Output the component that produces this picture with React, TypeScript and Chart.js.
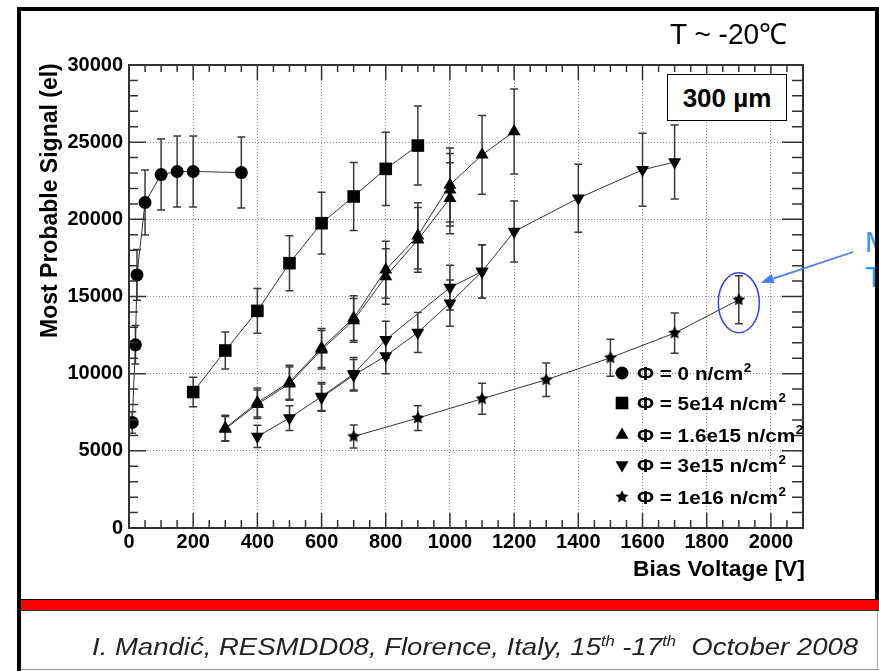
import React, { useEffect, useLayoutEffect, useRef } from "react";
import { Chart, registerables } from "chart.js";

Chart.register(...registerables);

// ---------------- data ----------------
// Phi = 0 (circles)
const v0 = [10, 20, 25, 50, 100, 150, 200, 350];
const s0 = [6840, 11870, 16400, 21090, 22900, 23100, 23100, 23030];
const e0 = [700, 1250, 1650, 2100, 2300, 2300, 2300, 2300];

// Phi = 5e14 (squares)
const v1 = [200, 300, 400, 500, 600, 700, 800, 900];
const s1 = [8810, 11500, 14070, 17160, 19750, 21480, 23270, 24780];
const e1 = [950, 1200, 1450, 1780, 2000, 2200, 2380, 2560];

// Phi = 1.6e15 (up triangles, several samples)
const v2a = [300, 400, 500, 600, 700, 800, 900, 1000, 1100, 1200];
const s2a = [6480, 8130, 9450, 11660, 13600, 16730, 18930, 22230, 24180, 25690];
const e2a = [830, 940, 1100, 1260, 1450, 1850, 2150, 2400, 2550, 2750];

const v2b = [300, 400, 500, 600, 700, 800, 900, 1000];
const s2b = [6420, 8020, 9350, 11550, 13450, 16300, 18670, 21370];
const e2b = [800, 920, 1080, 1240, 1420, 1800, 2100, 2300];

const v2c = [1000];
const s2c = [21910];
const e2c = [2350];

// Phi = 3e15 (down triangles, two samples)
const v3a = [400, 500, 600, 700, 800, 1000, 1100, 1200, 1400, 1600, 1700];
const s3a = [5930, 7125, 8520, 9990, 12200, 15580, 16620, 19210, 21370, 23210, 23710];
const e3a = [720, 800, 900, 1050, 1200, 1450, 1730, 1980, 2200, 2370, 2400];

const v3b = [600, 700, 800, 900, 1000, 1100];
const s3b = [8450, 9900, 11150, 12670, 14570, 16620];
const e3b = [880, 1020, 1150, 1300, 1500, 1730];

// Phi = 1e16 (stars)
const v4 = [700, 900, 1100, 1300, 1500, 1700, 1900];
const s4 = [5930, 7125, 8375, 9605, 11030, 12630, 14790];
const e4 = [750, 800, 1000, 1080, 1200, 1300, 1560];

const legendLabels = [
  "Φ = 0 n/cm",
  "Φ = 5e14 n/cm",
  "Φ = 1.6e15 n/cm",
  "Φ = 3e15 n/cm",
  "Φ = 1e16 n/cm",
];
const legendMarkers = ["circle", "rect", "up", "down", "star"];

const xMin = 0;
const xMax = 2100;
const xMajor = 200;
const xMinor = 50;
const yMin = 0;
const yMax = 30000;
const yMajor = 5000;
const yMinor = 1000;

const notePoint = [1900, 14600];

const FONT = '"Liberation Sans", Arial, Helvetica, sans-serif';

function makeStar(size: number) {
  const c = document.createElement("canvas");
  c.width = size;
  c.height = size;
  const g = c.getContext("2d")!;
  const cx = size / 2;
  const cy = size / 2;
  const R = size / 2 - 0.3;
  const r = R * 0.5;
  g.beginPath();
  for (let i = 0; i < 10; i++) {
    const a = -Math.PI / 2 + (i * Math.PI) / 5;
    const rad = i % 2 === 0 ? R : r;
    g.lineTo(cx + rad * Math.cos(a), cy + rad * Math.sin(a));
  }
  g.closePath();
  g.fillStyle = "#000";
  g.fill();
  return c;
}

function drawMarker(ctx: CanvasRenderingContext2D, kind: string, x: number, y: number, star: HTMLCanvasElement) {
  ctx.beginPath();
  if (kind === "circle") {
    ctx.arc(x, y, 6.5, 0, Math.PI * 2);
    ctx.fill();
  } else if (kind === "rect") {
    ctx.fillRect(x - 6.3, y - 6.3, 12.6, 12.6);
  } else if (kind === "up") {
    ctx.moveTo(x, y - 7.5);
    ctx.lineTo(x + 6.5, y + 3.75);
    ctx.lineTo(x - 6.5, y + 3.75);
    ctx.closePath();
    ctx.fill();
  } else if (kind === "down") {
    ctx.moveTo(x, y + 7.5);
    ctx.lineTo(x + 6.5, y - 3.75);
    ctx.lineTo(x - 6.5, y - 3.75);
    ctx.closePath();
    ctx.fill();
  } else {
    ctx.drawImage(star, x - star.width / 2, y - star.height / 2);
  }
}

function FitText(props: any) {
  const { x, baseline, size, weight = "normal", italic = false, color = "#000", align = "left", target, children } = props;
  const ref = useRef<HTMLSpanElement>(null);
  useLayoutEffect(() => {
    const el = ref.current;
    if (!el || !target) return;
    el.style.transform = "none";
    const w = el.offsetWidth;
    if (w > 0) el.style.transform = `scaleX(${target / w})`;
  }, [target]);
  const style: any = {
    position: "absolute",
    top: baseline - 0.8465 * size,
    whiteSpace: "nowrap",
    fontFamily: FONT,
    fontSize: size,
    lineHeight: 1,
    fontWeight: weight,
    fontStyle: italic ? "italic" : "normal",
    color,
    display: "inline-block",
    transformOrigin: align === "right" ? "right center" : "left center",
  };
  if (align === "right") style.right = 879 - x;
  else style.left = x;
  return (
    <span ref={ref} style={style}>
      {children}
    </span>
  );
}

const sup = (t: string) => (
  <span style={{ fontSize: "0.6em", position: "relative", top: "-0.6em" }}>{t}</span>
);

export default function App() {
  const ref = useRef<HTMLCanvasElement>(null);

  useEffect(() => {
    const canvas = ref.current!;
    const star = makeStar(14);
    const mk = (v: number[], s: number[]) => v.map((x, i) => ({ x, y: s[i] }));
    const base = {
      showLine: true,
      borderColor: "#333",
      borderWidth: 1,
      pointBackgroundColor: "#000",
      pointBorderColor: "#000",
      pointBorderWidth: 0,
      tension: 0,
      fill: false,
    };

    const errorBarPlugin = {
      id: "errbars",
      beforeDatasetsDraw(chart: any) {
        const { ctx, chartArea, scales } = chart;
        const xs = scales.x;
        const ys = scales.y;
        ctx.save();
        ctx.beginPath();
        ctx.rect(chartArea.left, chartArea.top, chartArea.right - chartArea.left, chartArea.bottom - chartArea.top);
        ctx.clip();
        ctx.strokeStyle = "#3a3a3a";
        ctx.lineWidth = 1.5;
        chart.data.datasets.forEach((ds: any) => {
          const errs = ds.errors;
          if (!errs) return;
          ds.data.forEach((p: any, i: number) => {
            const px = xs.getPixelForValue(p.x);
            const y1 = ys.getPixelForValue(p.y + errs[i]);
            const y2 = ys.getPixelForValue(p.y - errs[i]);
            ctx.beginPath();
            ctx.moveTo(px, y1);
            ctx.lineTo(px, y2);
            ctx.moveTo(px - 4, y1);
            ctx.lineTo(px + 4, y1);
            ctx.moveTo(px - 4, y2);
            ctx.lineTo(px + 4, y2);
            ctx.stroke();
          });
        });
        ctx.restore();
      },
    };

    const framePlugin = {
      id: "frame",
      afterDatasetsDraw(chart: any) {
        const { ctx, chartArea, scales } = chart;
        const { left, right, top, bottom } = chartArea;
        const xs = scales.x;
        const ys = scales.y;
        ctx.save();
        ctx.strokeStyle = "#333";
        ctx.lineWidth = 1.5;
        ctx.beginPath();
        for (let v = xMin; v <= xMax; v += xMinor) {
          const px = xs.getPixelForValue(v);
          const major = v % xMajor === 0;
          ctx.moveTo(px, bottom);
          ctx.lineTo(px, bottom - (major ? 15 : 8));
          ctx.moveTo(px, top);
          ctx.lineTo(px, top + (major ? 15 : 7));
        }
        for (let v = yMin; v <= yMax; v += yMinor) {
          const py = ys.getPixelForValue(v);
          const major = v % yMajor === 0;
          ctx.moveTo(left, py);
          ctx.lineTo(left + (major ? 17 : 9), py);
          ctx.moveTo(right, py);
          ctx.lineTo(right - (major ? 21 : 11), py);
        }
        ctx.stroke();
        ctx.lineWidth = 2;
        ctx.strokeRect(left, top, right - left, bottom - top);
        ctx.restore();
      },
    };

    const legendPlugin = {
      id: "rootLegend",
      afterDraw(chart: any) {
        const ctx = chart.ctx as CanvasRenderingContext2D;
        const mx = 622;
        const tx = 637;
        const rows = [373, 403, 435, 465, 497];
        ctx.save();
        ctx.fillStyle = "#000";
        rows.forEach((yy, i) => {
          drawMarker(ctx, legendMarkers[i], mx, yy, star);
          ctx.save();
          ctx.translate(tx, yy + 6.5);
          ctx.scale(1.12, 1);
          ctx.font = `bold 18.5px ${FONT}`;
          ctx.textBaseline = "alphabetic";
          ctx.textAlign = "left";
          ctx.fillText(legendLabels[i], 0, 0);
          const w = ctx.measureText(legendLabels[i]).width;
          ctx.font = `bold 12px ${FONT}`;
          ctx.fillText("2", w + 0.5, -7.5);
          ctx.restore();
        });
        ctx.restore();
      },
    };

    const notePlugin = {
      id: "note",
      afterDraw(chart: any) {
        const { ctx, scales } = chart;
        const cx = scales.x.getPixelForValue(notePoint[0]);
        const cy = scales.y.getPixelForValue(notePoint[1]);
        ctx.save();
        ctx.strokeStyle = "#3a3ef0";
        ctx.lineWidth = 1.5;
        ctx.beginPath();
        ctx.ellipse(cx, cy, 20.5, 30, 0, 0, Math.PI * 2);
        ctx.stroke();
        const x1 = 853;
        const y1 = 252;
        const x2 = cx + 22;
        const y2 = cy - 20;
        const ang = Math.atan2(y2 - y1, x2 - x1);
        const hl = 13;
        const hw = 5;
        const bx = x2 - hl * Math.cos(ang);
        const by = y2 - hl * Math.sin(ang);
        ctx.strokeStyle = "#4a7cf5";
        ctx.fillStyle = "#4a7cf5";
        ctx.lineWidth = 1.8;
        ctx.beginPath();
        ctx.moveTo(x1, y1);
        ctx.lineTo(bx, by);
        ctx.stroke();
        ctx.beginPath();
        ctx.moveTo(x2, y2);
        ctx.lineTo(bx + hw * Math.sin(ang), by - hw * Math.cos(ang));
        ctx.lineTo(bx - hw * Math.sin(ang), by + hw * Math.cos(ang));
        ctx.closePath();
        ctx.fill();
        ctx.restore();
      },
    };

    const tickFont = { family: FONT, size: 20, weight: "bold" as const };

    const chart = new Chart(canvas, {
      type: "scatter",
      data: {
        datasets: [
          { ...base, label: legendLabels[0], data: mk(v0, s0), errors: e0, pointStyle: "circle", pointRadius: 6.5 },
          { ...base, label: legendLabels[1], data: mk(v1, s1), errors: e1, pointStyle: "rect", pointRadius: 8.9 },
          { ...base, label: legendLabels[2], data: mk(v2a, s2a), errors: e2a, pointStyle: "triangle", pointRadius: 7.5 },
          { ...base, label: legendLabels[2] + " b", data: mk(v2b, s2b), errors: e2b, pointStyle: "triangle", pointRadius: 7.5 },
          { ...base, label: legendLabels[2] + " c", data: mk(v2c, s2c), errors: e2c, pointStyle: "triangle", pointRadius: 7.5 },
          { ...base, label: legendLabels[3], data: mk(v3a, s3a), errors: e3a, pointStyle: "triangle", pointRotation: 180, pointRadius: 7.5 },
          { ...base, label: legendLabels[3] + " b", data: mk(v3b, s3b), errors: e3b, pointStyle: "triangle", pointRotation: 180, pointRadius: 7.5 },
          { ...base, label: legendLabels[4], data: mk(v4, s4), errors: e4, pointStyle: star, pointRadius: 7 },
        ] as any,
      },
      options: {
        responsive: false,
        animation: false,
        events: [],
        layout: { padding: { left: 0, top: 65, right: 76, bottom: 83 } },
        plugins: { legend: { display: false }, tooltip: { enabled: false } },
        scales: {
          x: {
            type: "linear",
            min: xMin,
            max: xMax,
            afterFit: (s: any) => {
              s.height = 60;
            },
            ticks: {
              stepSize: xMajor,
              includeBounds: false,
              autoSkip: false,
              maxRotation: 0,
              padding: 2,
              color: "#000",
              font: tickFont,
              callback: (v: any) => String(v),
            },
            grid: { color: "#8f8f8f", lineWidth: 1, drawTicks: false },
            border: { display: false, dash: [1, 2] },
          },
          y: {
            type: "linear",
            min: yMin,
            max: yMax,
            afterFit: (s: any) => {
              s.width = 129;
            },
            ticks: {
              stepSize: yMajor,
              includeBounds: false,
              padding: 6,
              color: "#000",
              font: tickFont,
              callback: (v: any) => String(v),
            },
            grid: { color: "#8f8f8f", lineWidth: 1, drawTicks: false },
            border: { display: false, dash: [1, 2] },
          },
        },
      } as any,
      plugins: [errorBarPlugin, framePlugin, legendPlugin, notePlugin],
    });
    return () => chart.destroy();
  }, []);

  const abs = (l: number, t: number, w: number, h: number, extra: any = {}) => ({
    position: "absolute" as const,
    left: l,
    top: t,
    width: w,
    height: h,
    ...extra,
  });

  return (
    <div style={{ position: "absolute", left: 0, top: 0, width: 879, height: 671, overflow: "hidden", background: "#fff" }}>
      <canvas ref={ref} width={879} height={671} style={{ position: "absolute", left: 0, top: 0, display: "block" }} />

      {/* slide frame */}
      <div style={abs(17, 7, 862, 4, { background: "#000" })} />
      <div style={abs(17, 7, 4, 664, { background: "#000" })} />
      <div style={abs(21, 599, 858, 12, { background: "#ff0000", borderTop: "1px solid #000", borderBottom: "1px solid #333", boxSizing: "border-box" })} />
      <div style={abs(21, 669, 858, 1, { background: "#9a9a9a" })} />
      <div style={abs(877, 611, 1, 58, { background: "#aaa" })} />

      {/* texts */}
      <FitText x={670} baseline={45} size={29} target={117}>
        T ~ -20℃
      </FitText>

      <div
        style={abs(667, 74, 120, 47, {
          border: "1.5px solid #000",
          boxSizing: "border-box",
          background: "#fff",
          display: "flex",
          alignItems: "center",
          justifyContent: "center",
          fontFamily: FONT,
          fontWeight: "bold",
          fontSize: 26,
          lineHeight: 1,
          whiteSpace: "nowrap",
        })}
      >
        300 µm
      </div>

      <div
        style={{
          position: "absolute",
          left: 37.5,
          top: 338,
          transformOrigin: "left top",
          transform: "rotate(-90deg)",
          whiteSpace: "nowrap",
          fontFamily: FONT,
          fontWeight: "bold",
          fontSize: 23,
          lineHeight: 1,
          color: "#000",
        }}
      >
        Most Probable Signal (el)
      </div>

      <FitText x={805} baseline={577} size={22} weight="bold" align="right" target={172}>
        Bias Voltage [V]
      </FitText>

      <FitText x={865} baseline={252} size={30} color="#3399ff">
        M
      </FitText>
      <FitText x={865} baseline={287} size={30} color="#3399ff">
        T
      </FitText>

      <FitText x={858} baseline={655} size={23} italic color="#222" align="right" target={766}>
        I. Mandić, RESMDD08, Florence, Italy, 15{sup("th")} -17{sup("th")}&nbsp; October 2008
      </FitText>

      {/* right border drawn above the clipped blue text */}
      <div style={abs(875, 7, 4, 592, { background: "#000" })} />
    </div>
  );
}
